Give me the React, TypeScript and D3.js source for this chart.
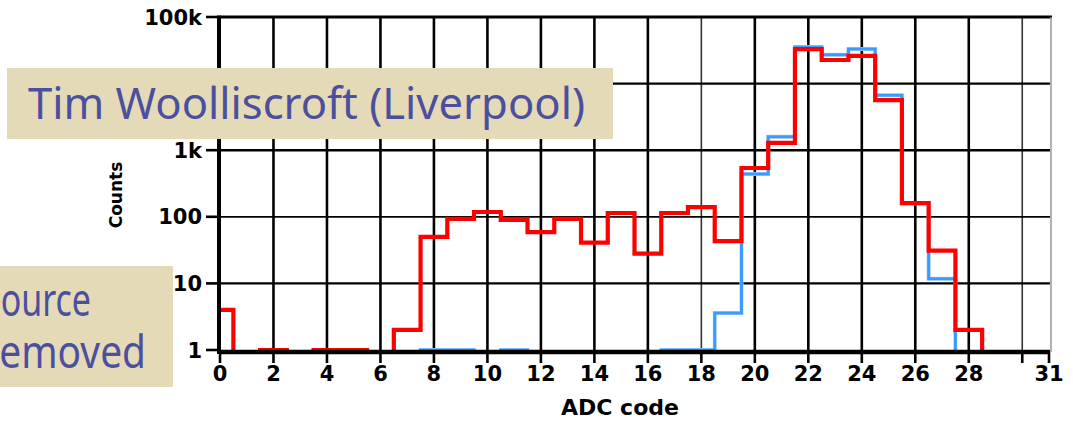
import React from "react";
import * as d3 from "d3";

// ADC code bins (one bin per integer code)
const adcCodes = [
  0, 1, 2, 3, 4, 5, 6, 7, 8, 9, 10, 11, 12, 13, 14, 15,
  16, 17, 18, 19, 20, 21, 22, 23, 24, 25, 26, 27, 28, 29, 30, 31,
];

// Counts per ADC code, blue histogram
const countsBlue = [
  0, 0, 0, 0, 0, 0, 0, 0, 1, 1, 0, 1, 0, 0, 0, 0,
  0, 1, 1, 3.6, 440, 1590, 35500, 27000, 33000, 6700, 160, 11.7, 0, 0, 0, 0,
];

// Counts per ADC code, red histogram
const countsRed = [
  4, 0, 1, 0, 1, 1, 0, 2, 50, 93, 118, 90, 59, 93, 41, 114,
  28, 114, 140, 43, 540, 1290, 33000, 22600, 26000, 5650, 160, 31, 2, 0, 0, 0,
];

const xTickValues = [0, 2, 4, 6, 8, 10, 12, 14, 16, 18, 20, 22, 24, 26, 28, 30, 31];
const xTickLabels = ["0", "2", "4", "6", "8", "10", "12", "14", "16", "18", "20", "22", "24", "26", "28", "", "31"];
const yTickValues = [1, 10, 100, 1000, 10000, 100000];
const yTickLabels = ["1", "10", "100", "1k", "10k", "100k"];

const W = 1073;
const H = 421;
const left = 220;
const right = 1050;
const top = 17;
const bottom = 350;

const FONT = "'DejaVu Sans', Verdana, sans-serif";
const HAND = "'Comic Sans MS', 'Noto Sans', sans-serif";

export default function App() {
  const x = d3.scaleLinear().domain([0, 31]).range([left, 1049]);
  const y = d3.scaleLog().domain([1, 100000]).range([bottom, top]);
  const axisY = y(1) + 2;

  // empty bins sit on the axis line, hidden beneath it
  const stepPath = (vals: number[]) => {
    const pts: [number, number][] = adcCodes.map((c, i) => [c - 0.5, vals[i]]);
    const last = adcCodes.length - 1;
    pts.push([adcCodes[last] + 0.5, vals[last]]);
    return (
      d3
        .line<[number, number]>()
        .curve(d3.curveStepAfter)
        .x((d) => x(d[0]))
        .y((d) => (d[1] >= 1 ? y(d[1]) : axisY))(pts) || ""
    );
  };

  const gridXs = [2, 4, 6, 8, 10, 12, 14, 16, 18, 20, 22, 24, 26, 28, 30];
  const gridYs = [10, 100, 1000, 10000];

  return (
    <div style={{ position: "fixed", left: 0, top: 0, width: W, height: H, background: "#fff" }}>
      <svg width={W} height={H} viewBox={`0 0 ${W} ${H}`} style={{ display: "block" }}>
        <defs>
          <clipPath id="plotClip">
            <rect x={left} y={0} width={right - left} height={360} />
          </clipPath>
        </defs>
        <rect x={0} y={0} width={W} height={H} fill="#fff" />

        {/* grid */}
        {gridXs.map((v) => (
          <line
            key={"gx" + v}
            x1={x(v)}
            x2={x(v)}
            y1={top}
            y2={axisY}
            stroke={v === 18 || v === 30 ? "#333" : "#000"}
            strokeWidth={v === 18 || v === 30 ? 1.6 : 2.6}
          />
        ))}
        {gridYs.map((v) => (
          <line
            key={"gy" + v}
            x1={left}
            x2={right}
            y1={y(v)}
            y2={y(v)}
            stroke="#000"
            strokeWidth={v === 100 ? 1.8 : 2.4}
          />
        ))}

        {/* histograms */}
        <g clipPath="url(#plotClip)" fill="none" strokeLinejoin="miter" strokeLinecap="square">
          <path d={stepPath(countsBlue)} stroke="#b9d9fb" strokeWidth={4} />
          <path d={stepPath(countsBlue)} stroke="#3a9bff" strokeWidth={3} />
          <path d={stepPath(countsRed)} stroke="#ff0000" strokeWidth={4.2} />
        </g>

        {/* frame */}
        <line x1={left} x2={right + 2} y1={top} y2={top} stroke="#000" strokeWidth={3} />
        <line x1={right + 1} x2={right + 1} y1={top} y2={axisY} stroke="#999" strokeWidth={1.5} />
        <line x1={left - 1} x2={right} y1={axisY} y2={axisY} stroke="#000" strokeWidth={4.6} />
        <line x1={left - 1} x2={left - 1} y1={top - 1.5} y2={axisY + 2} stroke="#000" strokeWidth={4} />

        {/* y ticks */}
        {yTickValues.map((v, i) => (
          <g key={"yt" + v}>
            <line x1={206} x2={left} y1={y(v)} y2={y(v)} stroke="#000" strokeWidth={2.6} />
            <text
              x={202}
              y={y(v) + 7.5}
              textAnchor="end"
              fontFamily={FONT}
              fontWeight="bold"
              fontSize={21}
              fill="#000"
            >
              {yTickLabels[i]}
            </text>
          </g>
        ))}

        {/* x ticks */}
        {xTickValues.map((v, i) => (
          <g key={"xt" + v}>
            <line x1={x(v)} x2={x(v)} y1={axisY} y2={363} stroke="#000" strokeWidth={2.6} />
            <text
              x={x(v)}
              y={381}
              textAnchor="middle"
              fontFamily={FONT}
              fontWeight="bold"
              fontSize={21}
              fill="#000"
            >
              {xTickLabels[i]}
            </text>
          </g>
        ))}

        {/* axis titles */}
        <text
          x={620}
          y={415}
          textAnchor="middle"
          fontFamily={FONT}
          fontWeight="bold"
          fontSize={22}
          fill="#000"
        >
          ADC code
        </text>
        <text
          transform="translate(122,195) rotate(-90)"
          textAnchor="middle"
          fontFamily={FONT}
          fontWeight="bold"
          fontSize={17}
          fill="#000"
        >
          Counts
        </text>

        {/* annotation boxes */}
        <rect x={7} y={68} width={606} height={71} fill="#e4dab8" />
        <text
          x={28}
          y={119}
          fontFamily={HAND}
          fontSize={44}
          fill="#4b4f9e"
          textLength={557}
          lengthAdjust="spacingAndGlyphs"
        >
          Tim Woolliscroft (Liverpool)
        </text>

        <rect x={-20} y={266} width={193} height={121} fill="#e4dab8" />
        <text
          x={-18}
          y={316}
          fontFamily={HAND}
          fontSize={46}
          fill="#4b4f9e"
          textLength={109}
          lengthAdjust="spacingAndGlyphs"
        >
          Source
        </text>
        <text
          x={-16}
          y={368}
          fontFamily={HAND}
          fontSize={46}
          fill="#4b4f9e"
          textLength={162}
          lengthAdjust="spacingAndGlyphs"
        >
          removed
        </text>
      </svg>
    </div>
  );
}
